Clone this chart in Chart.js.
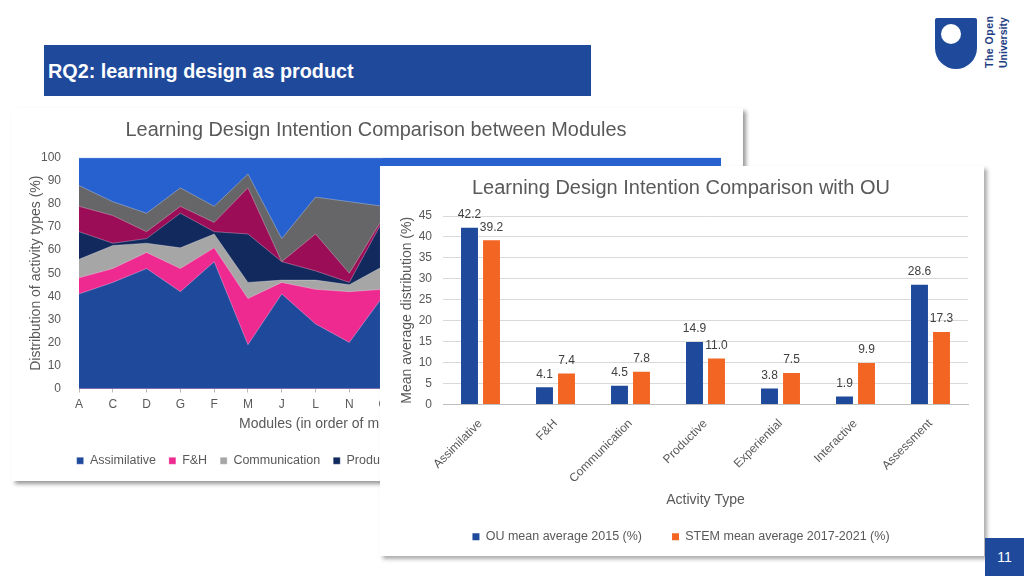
<!DOCTYPE html>
<html>
<head>
<meta charset="utf-8">
<script src="https://cdn.jsdelivr.net/npm/chart.js@4/dist/chart.umd.min.js"></script>
<style>
  html, body { margin: 0; padding: 0; background: #fff; width: 1024px; height: 576px; overflow: hidden; font-family: "Liberation Sans", Arial, sans-serif; }
  div, canvas { position: absolute; }
  #header { left: 44px; top: 45px; width: 547px; height: 51px; background: #1f4a9c; color: #fff; font-weight: bold; font-size: 19.8px; line-height: 52px; text-indent: 4px; }
  #page { left: 985px; top: 538px; width: 39px; height: 38px; background: #1f4a9c; color: #fff; font-size: 14px; line-height: 38px; text-align: center; }
  #shield { left: 935px; top: 18px; width: 42px; height: 51px; background: #1f4a9c; border-radius: 2px 2px 21px 21px; }
  #dot { left: 6px; top: 6px; width: 20px; height: 20px; background: #fff; border-radius: 50%; }
  #logoText { left: 982px; top: 68px; width: 52px; color: #1f3f85; font-weight: bold; font-size: 10.5px; line-height: 14px; transform-origin: 0 0; transform: rotate(-90deg); white-space: nowrap; }
  #card1 { left: 12px; top: 108px; width: 731px; height: 373px; background: #fff; box-shadow: 3px 3px 4px #999; }
  #card2 { left: 380px; top: 166px; width: 604px; height: 390px; background: #fff; box-shadow: 3px 3px 4px #aaa; }
  #c1 { left: -2px; top: 0; }
  #c2 { left: 0; top: 0; }
  #modTitle { left: 227px; top: 307px; font-size: 14px; color: #595959; white-space: nowrap; }
</style>
</head>
<body>
<div id="header">RQ2: learning design as product</div>
<div id="shield"><div id="dot"></div></div>
<div id="logoText"><span style="letter-spacing:0.5px">The Open</span><br>University</div>
<div id="card1">
  <canvas id="c1" width="732" height="373"></canvas>
  <div id="modTitle">Modules (in order of m</div>
</div>
<div id="card2"><canvas id="c2" width="602" height="390"></canvas></div>
<div id="page">11</div>
<script>
const modules = ["A", "C", "D", "G", "F", "M", "J", "L", "N", "O", "", "", "", "", "", "", "", "", "", ""];
const assimilative = [41, 46, 52, 42, 55, 19, 41, 28, 20, 40];
const fh = [7, 6, 7, 10, 6, 20, 5, 15, 22, 3];
const communication = [8, 10, 4, 9, 6, 7, 1, 4, 3, 10];
const productive = [12, 1, 2, 15, 1, 21, 8, 4, 1, 20];
const experiential = [11, 12, 3, 3, 4, 20, 0, 16, 4, 1];
const interactive = [9, 6, 8, 8, 7, 6, 10, 16, 31, 5];
const assessment = [12, 19, 24, 13, 21, 7, 35, 17, 19, 21];

const activities = ["Assimilative", "F&H", "Communication", "Productive", "Experiential", "Interactive", "Assessment"];
const ouMean = [42.2, 4.1, 4.5, 14.9, 3.8, 1.9, 28.6];
const stemMean = [39.2, 7.4, 7.8, 11.0, 7.5, 9.9, 17.3];

const grey = "#595959";
const blue = "#1f4a9c";
Chart.defaults.font.family = '"Liberation Sans", Arial, sans-serif';
Chart.defaults.font.size = 12;
Chart.defaults.color = grey;
Chart.defaults.animation = false;
Chart.defaults.responsive = false;

function area(label, data, color) {
  return { label, data, backgroundColor: color, borderColor: "rgba(255,255,255,0.4)", borderWidth: 0.75, fill: true, pointRadius: 0, tension: 0 };
}

// empty axis on the right keeps the plot clear of the card edge while title and legend stay centred on the card
function spacer(width) {
  return {
    position: "right",
    grid: { display: false },
    border: { display: false },
    ticks: { display: false },
    afterFit(s) { s.width = width; },
  };
}

// the top band runs to 100 everywhere, so the plot background carries it under the second card
const plotBack = {
  id: "plotBack",
  beforeDatasetsDraw(chart) {
    const a = chart.chartArea;
    chart.ctx.fillStyle = "#2761cf";
    chart.ctx.fillRect(a.left, a.top, a.width, a.height);
  }
};

new Chart(document.getElementById("c1"), {
  type: "line",
  plugins: [plotBack],
  data: {
    labels: modules,
    datasets: [
      area("Assimilative", assimilative, blue),
      area("F&H", fh, "#ee2a90"),
      area("Communication", communication, "#a6a6a6"),
      area("Productive", productive, "#12295e"),
      area("Experiential", experiential, "#9c0d57"),
      area("Interactive", interactive, "#666669"),
      area("Assessment", assessment, "#2761cf"),
    ],
  },
  options: {
    layout: { padding: { bottom: 4 } },
    plugins: {
      title: { display: true, text: "Learning Design Intention Comparison between Modules", font: { size: 19.9, weight: "normal" }, color: grey, padding: { top: 11, bottom: 15 } },
      legend: { position: "bottom", labels: { boxWidth: 7, boxHeight: 7, padding: 13, font: { size: 12.5 }, color: grey } },
      tooltip: { enabled: false },
    },
    scales: {
      x: {
        offset: false,
        stacked: true,
        grid: { drawOnChartArea: false, color: "#bbb", tickLength: 4 },
        border: { display: false },
        ticks: { autoSkip: false, maxRotation: 0, padding: 5 },
        afterFit(s) { s.height = 53; },
      },
      y: {
        stacked: true,
        min: 0,
        max: 100,
        grid: { display: false },
        border: { display: false },
        ticks: { stepSize: 10, padding: 10 },
        title: { display: true, text: "Distribution of activity types (%)", font: { size: 14 }, color: grey, padding: { top: 18, bottom: 0 } },
        afterFit(s) { s.width = 69; },
      },
      gap: spacer(21),
    },
  },
});

// value labels above each bar
const barLabels = {
  id: "barLabels",
  afterDatasetsDraw(chart) {
    const ctx = chart.ctx;
    ctx.save();
    ctx.font = '12px "Liberation Sans", Arial, sans-serif';
    ctx.fillStyle = "#404040";
    ctx.textAlign = "center";
    ctx.textBaseline = "middle";
    chart.data.datasets.forEach((ds, i) => {
      chart.getDatasetMeta(i).data.forEach((bar, j) => {
        ctx.fillText(ds.data[j].toFixed(1), bar.x, bar.y - 13);
      });
    });
    ctx.restore();
  }
};

new Chart(document.getElementById("c2"), {
  type: "bar",
  plugins: [barLabels],
  data: {
    labels: activities,
    datasets: [
      { label: "OU mean average 2015 (%)", data: ouMean, backgroundColor: blue, categoryPercentage: 0.587, barPercentage: 0.77 },
      { label: "STEM mean average 2017-2021 (%)", data: stemMean, backgroundColor: "#f26522", categoryPercentage: 0.587, barPercentage: 0.77 },
    ],
  },
  options: {
    layout: { padding: { bottom: 3 } },
    plugins: {
      title: { display: true, text: "Learning Design Intention Comparison with OU", font: { size: 20, weight: "normal" }, color: grey, padding: { top: 10, bottom: 16 } },
      legend: { position: "bottom", labels: { boxWidth: 7, boxHeight: 7, padding: 30, font: { size: 12.5 }, color: grey } },
      tooltip: { enabled: false },
    },
    scales: {
      x: {
        grid: { display: false },
        border: { color: "#bfbfbf" },
        ticks: { autoSkip: false, minRotation: 45, maxRotation: 45, padding: 4 },
        title: { display: true, text: "Activity Type", font: { size: 14 }, color: grey, padding: { top: 0, bottom: -8 } },
        afterFit(s) { s.height = 96; },
      },
      y: {
        min: 0,
        max: 45,
        grid: { color: "#d9d9d9", tickLength: 0, lineWidth: 1 },
        border: { display: false },
        ticks: { stepSize: 5, padding: 11 },
        title: { display: true, text: "Mean average distribution (%)", font: { size: 14 }, color: grey, padding: { top: 19, bottom: 0 } },
        afterFit(s) { s.width = 63; },
      },
      gap: spacer(14),
    },
  },
});
</script>
</body>
</html>
